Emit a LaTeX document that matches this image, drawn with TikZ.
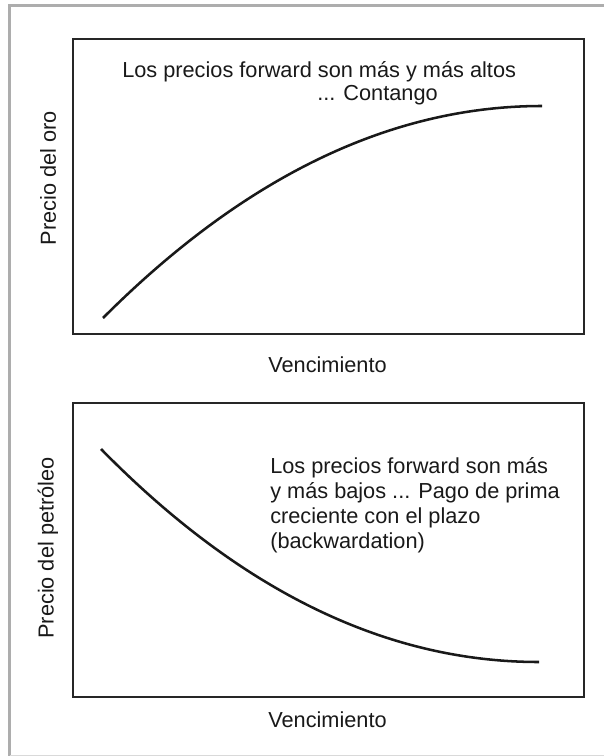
\documentclass[tikz,border=0pt]{standalone}
\usepackage{fontspec}
\setmainfont{Liberation Sans}
\begin{document}
\begin{tikzpicture}[x=0.75pt,y=-0.75pt,
  panel/.style={draw=black!85,line width=1.5pt},
  curve/.style={draw=black!90,line width=1.9pt},
  lbl/.style={font=\fontsize{16.3pt}{19pt}\selectfont,inner sep=0pt,text=black!90},
  frameline/.style={draw=black!32,line width=2pt}]
\useasboundingbox (0,0) rectangle (604,756);
% outer frame
\draw[frameline] (9.5,756) -- (9.5,5.5) -- (604,5.5);
\draw[draw=black!15,line width=0.8pt] (9.5,755.5) -- (604,755.5);
% panels
\node[panel,minimum width=511*0.75pt,minimum height=294*0.75pt,inner sep=0pt,anchor=north west] (p1) at (72,38.5) {};
\node[panel,minimum width=511*0.75pt,minimum height=294*0.75pt,inner sep=0pt,anchor=north west] (p2) at (72,402) {};
% curves
\coordinate (a1) at (103,318);
\coordinate (b1) at (542,106);
\draw[curve] (a1) .. controls (244.3,176.7) and (390.7,106) .. (b1);
\coordinate (a2) at (101,449);
\coordinate (b2) at (539,662);
\draw[curve] (a2) .. controls (240.3,591) and (386.3,662) .. (b2);
% texts
\node[lbl,anchor=west] (t1) at (122,72) {Los precios forward son más y más altos};
\node[lbl,anchor=west] (t2) at (317,95) {... Contango};
\node[lbl,rotate=90] (y1) at (48,178) {Precio del oro};
\node[lbl] (x1) at (327.5,365) {Vencimiento};
\node[lbl,rotate=90] (y2) at (48,548) {Precio del petróleo};
\node[lbl] (x2) at (327.5,720) {Vencimiento};
\node[lbl,anchor=west] (u1) at (270,468) {Los precios forward son más};
\node[lbl,anchor=west] (u2) at (270,493) {y más bajos ... Pago de prima};
\node[lbl,anchor=west] (u3) at (270,518) {creciente con el plazo};
\node[lbl,anchor=west] (u4) at (270,543) {(backwardation)};
\end{tikzpicture}
\end{document}
